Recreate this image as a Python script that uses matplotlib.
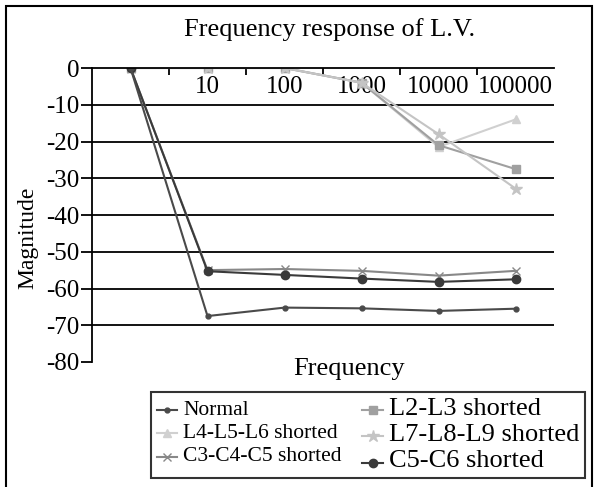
import matplotlib.pyplot as plt
from matplotlib.patches import Rectangle

plt.rcParams['font.family'] = ['Liberation Serif', 'DejaVu Serif']
plt.rcParams['axes.unicode_minus'] = False

# data
categories = ['1', '10', '100', '1000', '10000', '100000']
tick_labels = ['', '10', '100', '1000', '10000', '100000']
normal = [0, -67.5, -65.2, -65.4, -66.1, -65.5]
l2_l3 = [0, 0, 0, -4, -21, -27.5]
l4_l5_l6 = [0, 0, 0, -4, -21.5, -14]
l7_l8_l9 = [0, 0, 0, -4, -18, -32.8]
c3_c4_c5 = [0, -55, -54.7, -55.2, -56.5, -55.2]
c5_c6 = [0, -55.3, -56.3, -57.3, -58.2, -57.5]

fig = plt.figure(figsize=(5.95, 4.87), dpi=100)
ax = fig.add_axes([92/595, 1-362/487, 462/595, 294/487])
fig.patches.append(Rectangle((6/595, -5/487), 586/595, 486/487, transform=fig.transFigure,
                             fill=False, edgecolor='black', linewidth=1.5))

x = list(range(len(categories)))
ax.plot(x, l4_l5_l6, color='#d0d0d0', lw=1.5, marker='^', ms=6, label='L4-L5-L6 shorted')
ax.plot(x, l2_l3, color='#a0a0a0', lw=1.5, marker='s', ms=6, label='L2-L3 shorted')
ax.plot(x, l7_l8_l9, color='#c4c4c4', lw=1.5, marker='*', ms=9, label='L7-L8-L9 shorted')
ax.plot(x, c3_c4_c5, color='#888888', lw=1.5, marker='x', ms=6, label='C3-C4-C5 shorted')
ax.plot(x, c5_c6, color='#3a3a3a', lw=1.5, marker='o', ms=6, label='C5-C6 shorted')
ax.plot(x, normal, color='#4a4a4a', lw=1.5, marker='o', ms=3.5, label='Normal')

ax.set_xlim(-0.5, 5.5)
ax.set_ylim(-80, 0)
ax.set_yticks(range(-80, 1, 10))
for v in range(-70, 0, 10):
    ax.axhline(v, color='black', lw=1.3, zorder=0)

ax.spines['top'].set_visible(False)
ax.spines['right'].set_visible(False)
ax.spines['bottom'].set_position(('data', 0))
ax.spines['bottom'].set_linewidth(1.3)
ax.spines['left'].set_linewidth(1.3)

ax.set_xticks([i + 0.5 for i in range(5)])
ax.set_xticklabels([])
ax.set_xticks(x, minor=True)
ax.set_xticklabels(tick_labels, minor=True)
ax.tick_params(axis='x', which='major', direction='out', length=5, width=1.3)
ax.tick_params(axis='x', which='minor', length=0, labelsize=18, pad=6)
ax.tick_params(axis='y', direction='out', length=8, width=1.3, labelsize=18, pad=1)

fig.text(330/595, 1-30/487, 'Frequency response of L.V.', ha='center', va='center', fontsize=19)
fig.text(28/595, 1-238/487, 'Magnitude', rotation=90, ha='center', va='center', fontsize=17)
fig.text(349/595, 1-369/487, 'Frequency', ha='center', va='center', fontsize=19)

h = {l.get_label(): l for l in ax.get_lines()}
order = ['Normal', 'L4-L5-L6 shorted', 'C3-C4-C5 shorted',
         'L2-L3 shorted', 'L7-L8-L9 shorted', 'C5-C6 shorted']
leg = fig.legend([h[k] for k in order], order, ncol=2, loc='lower left',
                 bbox_to_anchor=(151/595, 9/487), frameon=True, fancybox=False,
                 edgecolor='black', handlelength=1.5, handletextpad=0.4,
                 columnspacing=1.5, labelspacing=0.32, borderpad=0.4,
                 borderaxespad=0)
leg.get_frame().set_linewidth(1.5)
for i, t in enumerate(leg.get_texts()):
    t.set_fontsize(15.5 if i < 3 else 19)

fig.savefig('out.png', dpi=100)
